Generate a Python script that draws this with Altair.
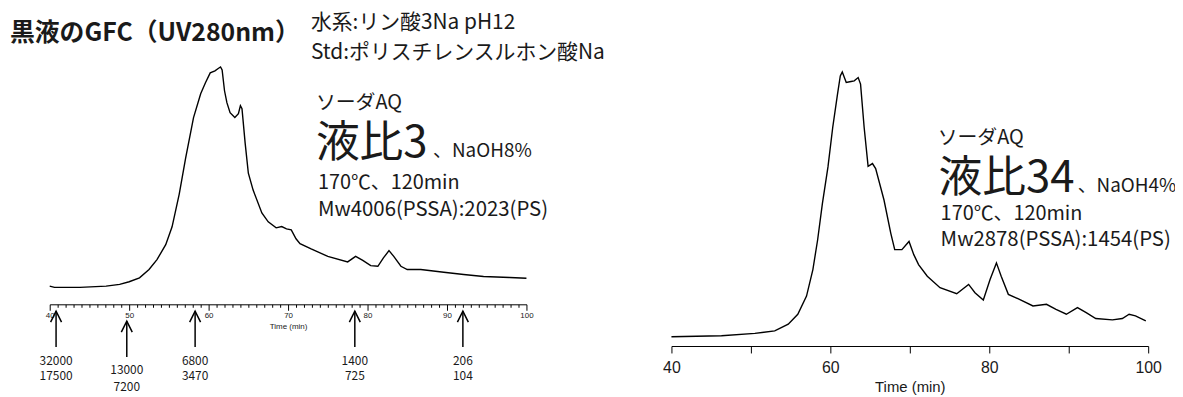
import altair as alt
import pandas as pd

# ---------------- data ----------------
# left chromatogram (液比3, NaOH8%)
left_time = [40.0, 40.6, 43.8, 47.1, 48.8, 50.0, 51.3, 52.5, 53.5, 54.6, 55.4, 56.3, 57.1,
             58.1, 59.0, 59.6, 60.2, 60.8, 61.25, 61.5, 61.7, 62.0, 62.3, 62.7, 63.3, 63.75,
             64.0, 64.2, 64.6, 65.0, 65.6, 66.7, 67.5, 68.5, 69.2, 69.8, 70.4, 71.0, 71.5,
             72.9, 75.0, 77.5, 78.5, 79.4, 80.4, 81.3, 82.0, 82.7, 83.3, 84.2, 85.0, 86.7,
             89.6, 92.1, 94.6, 97.9, 100.0]
left_signal = [18.3, 17, 17, 18.3, 20, 22.7, 26.7, 35, 45, 60, 78, 111, 147,
               188, 212, 223, 233, 235, 237.7, 239, 236, 215, 203, 193, 188, 192,
               200, 197, 162, 132, 115, 92, 83, 77, 78.3, 76, 75, 66, 61,
               55.7, 48.3, 42.7, 48.3, 44.3, 39, 38.3, 46.7, 54, 48.3, 38.3, 35, 35,
               32.3, 30, 28, 27, 26.3]

# right chromatogram (液比34, NaOH4%)
right_time = [40.0, 46.3, 50.5, 53.0, 54.7, 55.9, 57.0, 57.8, 58.4, 59.0, 59.7, 60.3, 60.9,
              61.25, 61.5, 62.0, 62.6, 63.0, 63.5, 63.8, 64.25, 64.75, 65.3, 65.7, 66.75,
              67.6, 68.1, 69.0, 69.9, 70.5, 71.1, 72.2, 73.8, 75.9, 77.4, 78.2, 79.25, 80.1,
              80.9, 81.5, 82.4, 83.8, 85.5, 87.2, 88.4, 89.7, 91.1, 92.2, 93.4, 95.5, 96.75,
              97.6, 98.4, 99.7]
right_signal = [9.3, 10.3, 12.7, 15.3, 22, 32, 50.3, 77, 107, 143.7, 180.3, 220.3, 253.7,
                272, 276, 265.3, 266.3, 267, 270.3, 263.7, 220.3, 181, 183.7, 178.7, 147,
                113.7, 97, 97, 105.3, 92, 82, 70.3, 58.7, 52.7, 62, 53.7, 46.3, 67,
                83.7, 70.3, 52, 47, 40.3, 42, 37, 32, 38.7, 33.7, 27.7, 26.3, 27.7,
                32, 30.3, 25.3]

# molecular-weight standards marked with arrows
std_time = [40.8, 49.7, 58.3, 78.4, 92.0]
std_mw_pssa = ["32000", "13000", "6800", "1400", "206"]
std_mw_ps = ["17500", "7200", "3470", "725", "104"]

left_tick_values = list(range(40, 101))
right_tick_values = list(range(40, 101, 10))

title_text = "黒液のGFC（UV280nm）"
cond_line1 = "水系:リン酸3Na pH12"
cond_line2 = "Std:ポリスチレンスルホン酸Na"
left_notes = ["ソーダAQ", "液比3", "、NaOH8%", "170℃、120min", "Mw4006(PSSA):2023(PS)"]
right_notes = ["ソーダAQ", "液比34", "、NaOH4%", "170℃、120min", "Mw2878(PSSA):1454(PS)"]

# ---------------- layout / style ----------------
W, H = 1175, 389
JP = "Noto Sans CJK JP"
LAT = "Liberation Sans"
INK = "#1a1a1a"

left_x_scale = alt.Scale(domain=[40, 100], range=[42, 522], nice=False, zero=False)
left_y_scale = alt.Scale(domain=[0, 250], range=[297, 47], nice=False, zero=False)
right_x_scale = alt.Scale(domain=[40, 100], range=[668, 1148], nice=False, zero=False)
right_y_scale = alt.Scale(domain=[0, 280], range=[339, 59], nice=False, zero=False)

left_axis = alt.Axis(
    orient="bottom", offset=297 - H, values=left_tick_values,
    labelExpr="datum.value % 10 === 0 ? datum.label : ''",
    tickSize={"condition": {"test": "datum.value % 10 === 0", "value": 6}, "value": 3},
    labelFontSize=8, labelFont=LAT, labelColor=INK, labelPadding=1,
    labelOverlap=False, labelFlush=False, grid=False,
    domainColor="black", tickColor="black", domainWidth=1, tickWidth=1,
    title="Time (min)", titleFontSize=8, titleFont=LAT, titleFontWeight="normal",
    titleColor=INK, titlePadding=3,
)
right_axis = alt.Axis(
    orient="bottom", offset=339 - H, values=right_tick_values,
    labelExpr="datum.value % 20 === 0 ? datum.label : ''",
    tickSize=7, labelFontSize=16, labelFont=LAT, labelColor=INK, labelPadding=7,
    labelOverlap=False, labelFlush=False, grid=False,
    domainColor="black", tickColor="black", domainWidth=1, tickWidth=1,
    title="Time (min)", titleFontSize=15, titleFont=LAT, titleFontWeight="normal",
    titleColor=INK, titlePadding=4,
)

df_left = pd.DataFrame({"t": left_time, "v": left_signal})
df_right = pd.DataFrame({"t": right_time, "v": right_signal})
df_std = pd.DataFrame({"t": std_time, "pssa": std_mw_pssa, "ps": std_mw_ps})

lx = alt.X("t:Q", scale=left_x_scale, axis=left_axis)
rx = alt.X("t:Q", scale=right_x_scale, axis=right_axis)

left_curve = alt.Chart(df_left).mark_line(color="black", strokeWidth=1.4).encode(
    x=lx, y=alt.Y("v:Q", scale=left_y_scale, axis=None)
)
right_curve = alt.Chart(df_right).mark_line(color="black", strokeWidth=1.4).encode(
    x=rx, y=alt.Y("v:Q", scale=right_y_scale, axis=None)
)

CHEVRON = "M-1,1L0,-1L1,1"


def arrow_group(filter_expr, tip, shaft_end, line1, line2):
    base = alt.Chart(df_std).transform_filter(filter_expr)
    shaft = base.mark_rule(color="black", strokeWidth=1.5).encode(
        x=lx, y=alt.value(tip), y2=alt.value(shaft_end))
    head = base.mark_point(shape=CHEVRON, filled=False, size=121, strokeWidth=1.5,
                           color="black", opacity=1).encode(x=lx, y=alt.value(tip + 5.5))
    t1 = base.mark_text(font=JP, fontSize=12, color=INK).encode(
        x=lx, y=alt.value(line1), text="pssa:N")
    t2 = base.mark_text(font=JP, fontSize=12, color=INK).encode(
        x=lx, y=alt.value(line2), text="ps:N")
    return [shaft, head, t1, t2]


arrows = arrow_group("datum.pssa !== '13000'", 304, 340, 354, 369) + \
    arrow_group("datum.pssa === '13000'", 314, 350, 363, 380)

left_layer = alt.layer(left_curve, *arrows)
right_layer = alt.layer(right_curve)


def note(text, x, y, size, baseline="middle", weight="normal"):
    return alt.Chart(pd.DataFrame({"s": [text]})).mark_text(
        font=JP, fontSize=size, color=INK, align="left", baseline=baseline,
        fontWeight=weight,
    ).encode(x=alt.value(x), y=alt.value(y), text="s:N")


notes = [
    note(title_text, 2, 24, 25, weight="bold"),
    note(cond_line1, 305, 14, 21),
    note(cond_line2, 305, 44, 21),
    note(left_notes[0], 310, 94, 20),
    note(left_notes[1], 310, 149, 44, baseline="alphabetic"),
    note(left_notes[2], 428, 149, 19, baseline="alphabetic"),
    note(left_notes[3], 312, 175, 20),
    note(left_notes[4], 312, 202, 20.5),
    note(right_notes[0], 936, 130, 20),
    note(right_notes[1], 937, 184, 44, baseline="alphabetic"),
    note(right_notes[2], 1077, 184, 19, baseline="alphabetic"),
    note(right_notes[3], 939, 206, 20),
    note(right_notes[4], 939, 232, 20.5),
]

chart = alt.layer(left_layer, right_layer, *notes).resolve_scale(
    x="independent", y="independent"
).properties(
    width=W, height=H, padding=0, autosize=alt.AutoSizeParams(type="none"),
    background="white",
).configure_view(stroke=None)

chart.save("out.html", embed_options={"renderer": "svg", "actions": False})
